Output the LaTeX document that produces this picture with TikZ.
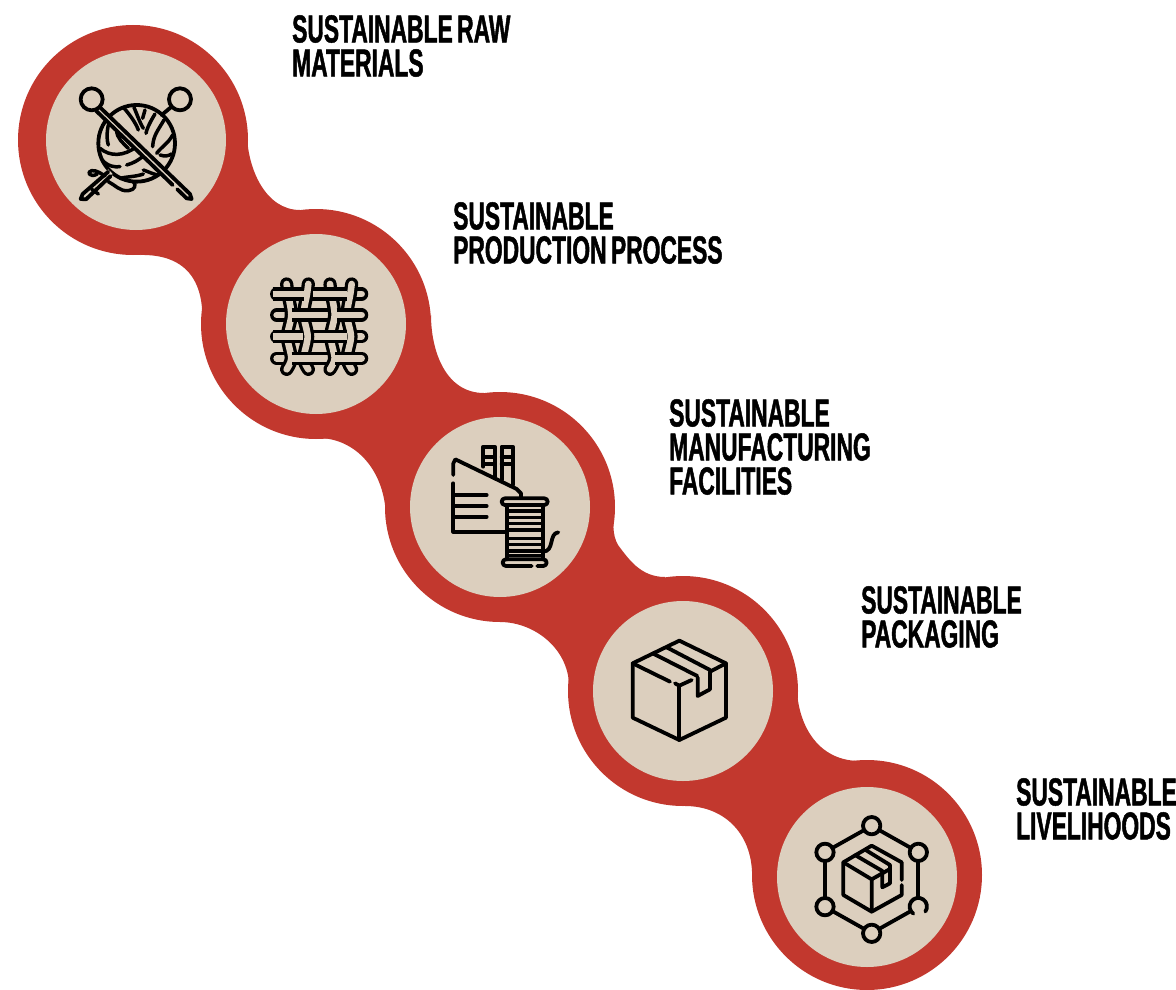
\documentclass[tikz,border=0pt]{standalone}
\usepackage{fontspec}
\setmainfont[FakeStretch=0.585,FakeBold=1.2,WordSpace=0.7,BoldFont={Liberation Sans Bold}]{Liberation Sans Bold}
\definecolor{chain}{HTML}{C2382E}
\definecolor{disc}{HTML}{DCCFBE}
\tikzset{
  outerdisc/.style={circle,fill=chain,minimum size=230pt,inner sep=0pt,draw=none},
  innerdisc/.style={circle,fill=disc,minimum size=180pt,inner sep=0pt,draw=none},
  label/.style={anchor=north west,inner sep=0pt,align=left,font=\fontsize{39}{34}\selectfont,text=black},
  ico/.style={line width=3.8pt,line cap=round,line join=round,draw=black},
  thinico/.style={line width=3.5pt,line cap=round,line join=round,draw=black},
  strand/.style={line width=3.3pt,double=disc,double distance=6.6pt,draw=black,line cap=round},
  strandover/.style={line width=3.3pt,double=disc,double distance=6.6pt,draw=black,line cap=butt},
}
\begin{document}
\begin{tikzpicture}[x=1pt,y=-1pt]
\useasboundingbox (0,0) rectangle (1176,990);
% connecting webs
\fill[chain] (247,135) .. controls (248,170) and (266,210) .. (300,210) -- (320,330)
  -- (202,325) .. controls (205,280) and (185,254) .. (140,255) -- cycle;
\fill[chain] (431,315) .. controls (431,350) and (445,393) .. (484,393) -- (500,510)
  -- (386,520) .. controls (386,470) and (355,438) .. (318,438) -- cycle;
\fill[chain] (614,505) .. controls (613,520) and (612,535) .. (618,545) .. controls (628,558) and (640,577) .. (665,577) -- (683,690)
  -- (569,690) .. controls (571,650) and (535,622) .. (500,622) -- cycle;
\fill[chain] (797,680) .. controls (795,715) and (812,761) .. (860,761) -- (867,877)
  -- (752,880) .. controls (754,835) and (725,806) .. (685,806) -- cycle;
% discs
\node[outerdisc] (o1) at (133,140) {};
\node[outerdisc] (o2) at (316,324) {};
\node[outerdisc] (o3) at (500,507) {};
\node[outerdisc] (o4) at (683,691) {};
\node[outerdisc] (o5) at (867,875) {};
\node[innerdisc] (i1) at (136,140) {};
\node[innerdisc] (i2) at (316,324) {};
\node[innerdisc] (i3) at (500,507) {};
\node[innerdisc] (i4) at (683,691) {};
\node[innerdisc] (i5) at (867,877) {};
% labels
\node[label] (t1) at (292,15) {SUSTAINABLE RAW\\MATERIALS};
\node[label] (t2) at (453,202) {SUSTAINABLE\\PRODUCTION PROCESS};
\node[label] (t3) at (669,399) {SUSTAINABLE\\MANUFACTURING\\FACILITIES};
\node[label] (t4) at (861,586) {SUSTAINABLE\\PACKAGING};
\node[label] (t5) at (1016,778) {SUSTAINABLE\\LIVELIHOODS};
% icon 1: yarn and needles
\begin{scope}[shift={(40,50)},x=0.3333pt,y=-0.3333pt]
  \draw[ico] (290,280) circle (115);
  \draw[thinico] (250,172) .. controls (275,200) and (290,225) .. (295,240);
  \draw[thinico] (282,172) .. controls (290,190) and (298,215) .. (310,235);
  \draw[thinico] (315,180) -- (308,205);
  \draw[thinico] (345,192) .. controls (325,225) and (320,240) .. (318,250);
  \draw[thinico] (372,210) .. controls (355,240) and (340,255) .. (338,290);
  \draw[thinico] (398,255) .. controls (385,280) and (365,290) .. (350,310);
  \draw[thinico] (180,295) .. controls (210,320) and (250,320) .. (290,290);
  \draw[thinico] (186,330) .. controls (205,350) and (225,352) .. (240,350);
  \draw[thinico] (260,345) .. controls (280,340) and (295,330) .. (308,320);
  \draw[thinico] (205,225) .. controls (200,250) and (200,270) .. (205,285);
  \draw[thinico] (230,240) .. controls (230,265) and (250,280) .. (265,295);
  \draw[thinico] (360,315) .. controls (375,320) and (385,318) .. (395,312);
  \draw[thinico] (310,360) .. controls (325,365) and (345,375) .. (355,375);
  \draw[thinico] (240,385) .. controls (260,380) and (290,380) .. (310,372);
  % needle B, lower part and tail
  \fill[disc] (205,358) -- (122,440) -- (135,450) -- (218,372) -- cycle;
  \draw[ico] (205,365) -- (128,432) -- (122,447) -- (138,448) -- (212,378);
  \draw[thinico] (155,418) -- (175,432);
  \draw[thinico] (172,372) .. controls (150,385) and (138,365) .. (155,362) .. controls (170,360) and (185,372) .. (195,378);
  \draw[thinico] (205,395) .. controls (225,405) and (240,425) .. (265,422) .. controls (285,420) and (290,405) .. (280,395);
  % needle B, upper part
  \draw[ico] (365,195) -- (395,170);
  \draw[ico] (420,148) circle (33);
  % needle A
  \fill[disc] (178,172) -- (455,438) -- (445,450) -- (168,182) -- cycle;
  \draw[ico] (180,172) -- (450,432) -- (455,447) -- (440,445) -- (412,418);
  \draw[ico] (168,182) -- (398,405);
  \draw[ico] (155,148) circle (33);
\end{scope}
% icon 2: weave
\begin{scope}[shift={(230,235)},x=0.3333pt,y=-0.3333pt]
  \foreach \yy in {177,240,305,370}{
    \draw[strand] (140,\yy) -- (395,\yy);
  }
  \foreach \xx/\sg in {170/-1,235/1,300/-1,365/1}{
    \draw[strand] plot[smooth] coordinates {(\xx,147) (\xx-\sg*4,177) (\xx-\sg*14,240) (\xx-\sg*2,305) (\xx-\sg*14,370) (\xx,403)};
  }
  \draw[strandover] (128,177) -- (222,177);
  \draw[strandover] (250,177) -- (350,177);
  \draw[strandover] (185,240) -- (270,240);
  \draw[strandover] (320,240) -- (385,240);
  \draw[strandover] (130,305) -- (220,305);
  \draw[strandover] (255,305) -- (350,305);
  \draw[strandover] (185,370) -- (275,370);
  \draw[strandover] (315,370) -- (385,370);
\end{scope}
% icon 3: factory and spool
\begin{scope}[shift={(420,425)},x=0.3333pt,y=-0.3333pt]
  \draw[ico] (190,125) -- (190,65) -- (225,65) -- (225,155);
  \draw[ico] (245,165) -- (245,65) -- (278,65) -- (278,180);
  \draw[ico] (190,95) -- (225,95) (190,118) -- (225,118);
  \draw[ico] (245,95) -- (278,95) (245,118) -- (278,118);
  \draw[ico] (100,150) -- (100,115) -- (106,103) -- (290,192) -- (303,205) -- (303,218);
  \draw[ico] (100,175) -- (100,320) -- (255,320);
  \draw[ico] (100,210) -- (200,210) (100,243) -- (200,243) (100,275) -- (200,275);
  \draw[ico,rounded corners=3.3pt] (245,220) rectangle (383,240);
  \draw[ico] (335,423) -- (258,423) arc[start angle=90,end angle=270,radius=10] -- (370,403) arc[start angle=-90,end angle=90,radius=10] -- (352,423);
  \draw[ico] (262,240) -- (262,403) (368,240) -- (368,403);
  \foreach \yy in {258,277,296,315,340,358,378,392}{ \draw[thinico] (262,\yy) -- (368,\yy); }
  \draw[ico] (368,380) .. controls (405,380) and (385,325) .. (415,322);
\end{scope}
% icon 4: box
\begin{scope}[shift={(610,620)},x=0.3333pt,y=-0.3333pt]
  \draw[ico] (68,130) -- (208,62) -- (348,130) -- (348,293) -- (208,360) -- (68,293) -- cycle;
  \draw[ico] (68,130) -- (180,185);
  \draw[ico] (195,190) -- (208,197) -- (245,180);
  \draw[ico] (208,197) -- (208,360);
  \draw[ico] (128,100) -- (262,168);
  \draw[ico] (170,82) -- (300,150);
  \draw[ico] (348,130) -- (300,155) -- (300,208) -- (263,228) -- (263,172);
\end{scope}
% icon 5: network box
\begin{scope}[shift={(795,800)},x=0.3333pt,y=-0.3333pt]
  \draw[ico] (230,77) circle (26);
  \draw[ico] (370,157) circle (26);
  \draw[ico] (230,400) circle (26);
  \draw[ico] (90,320) circle (26);
  \draw[ico] (90,157) circle (26);
  \draw[ico] (355,341) arc[start angle=125,end angle=395,radius=26];
  \draw[ico] (208,90) -- (112,144);
  \draw[ico] (252,90) -- (348,144);
  \draw[ico] (370,183) -- (370,294);
  \draw[ico] (348,333) -- (252,387);
  \draw[ico] (208,387) -- (112,333);
  \draw[ico] (90,294) -- (90,183);
  \draw[ico] (320,240) -- (320,187) -- (230,137) -- (145,187) -- (145,285) -- (230,335) -- (320,285) -- (320,255);
  \draw[ico] (145,187) -- (230,238) -- (230,335);
  \draw[ico] (230,238) -- (285,207);
  \draw[ico] (180,165) -- (262,213) -- (262,262) -- (285,250) -- (285,195) -- (212,150);
\end{scope}
\end{tikzpicture}
\end{document}
